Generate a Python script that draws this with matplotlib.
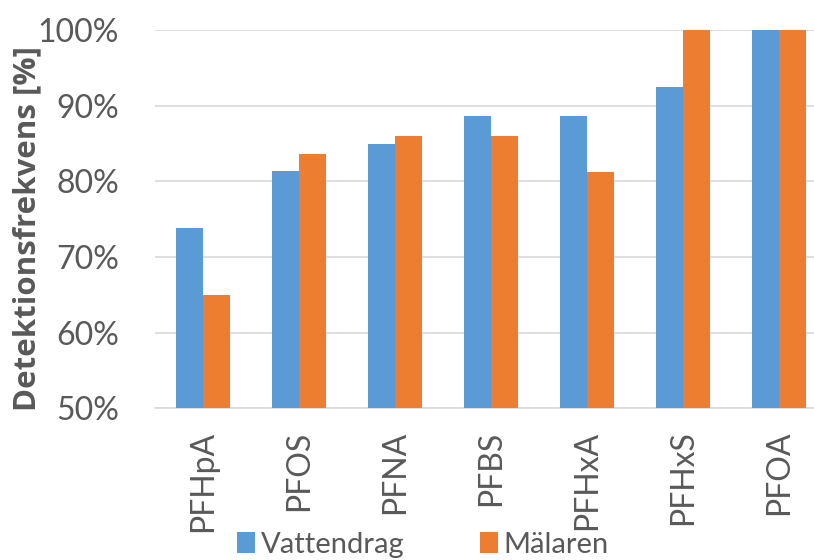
import matplotlib.pyplot as plt
import numpy as np

categories = ["PFHpA", "PFOS", "PFNA", "PFBS", "PFHxA", "PFHxS", "PFOA"]
vattendrag = [73.9, 81.4, 85.0, 88.7, 88.7, 92.5, 100.0]
malaren = [65.0, 83.7, 86.0, 86.0, 81.2, 100.0, 100.0]
yticks = [50, 60, 70, 80, 90, 100]

plt.rcParams['font.family'] = ['Lato', 'DejaVu Sans']
grey = '#595959'

fig = plt.figure(figsize=(8.14, 5.6), dpi=100)
ax = fig.add_axes([155 / 814, 1 - 408.3 / 560, 672 / 814, 378 / 560])

x = np.arange(len(categories))
w = 0.286
ax.bar(x - w / 2, vattendrag, w, color='#5B9BD5', label='Vattendrag', zorder=3)
ax.bar(x + w / 2, malaren, w, color='#ED7D31', label='Mälaren', zorder=3)

ax.set_xlim(-0.5, len(categories) - 0.5)
ax.set_ylim(50, 100)
ax.set_yticks(yticks)
ax.set_yticklabels([f"{v}%" for v in yticks])
ax.set_xticks(x)
ax.set_xticklabels(categories, rotation=90)

ax.grid(axis='y', color='#d9d9d9', linewidth=1.2, zorder=0)
for s in ['top', 'right', 'left']:
    ax.spines[s].set_visible(False)
ax.spines['bottom'].set_color('#d9d9d9')
ax.spines['bottom'].set_linewidth(1.2)

ax.tick_params(axis='both', length=0, labelsize=23, labelcolor=grey)
ax.tick_params(axis='y', pad=26)
ax.tick_params(axis='x', pad=16)

ax.set_ylabel('Detektionsfrekvens [%]', fontsize=22.5, fontweight='bold', color=grey,
              family=['Open Sans', 'DejaVu Sans'])
ax.yaxis.set_label_coords(-0.167, 0.475)

fig.legend(loc='center', bbox_to_anchor=(423 / 814, 0.027), ncol=2, frameon=False,
           fontsize=21, labelcolor=grey, handlelength=0.6, handleheight=0.7,
           handletextpad=0.2, columnspacing=2.6, borderpad=0)

fig.savefig('out.png', dpi=100)
